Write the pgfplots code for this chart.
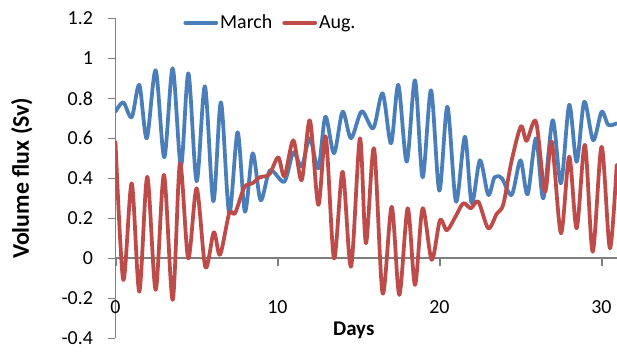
\documentclass[border=0pt]{standalone}
\usepackage{pgfplots}
\pgfplotsset{compat=1.18}
\usepackage{pgfplotstable}
\usepackage{fontspec}
\setmainfont{Carlito}

\definecolor{marchblue}{HTML}{4A7EBB}
\definecolor{augred}{HTML}{BE4B48}
\definecolor{axisgray}{HTML}{7F7F7F}

% Daily-cycle volume flux, March
\pgfplotstableread{
day flux
0.00 0.733
0.48 0.780
1.00 0.705
1.47 0.867
1.93 0.600
2.48 0.940
3.01 0.505
3.53 0.950
4.04 0.460
4.50 0.925
5.01 0.385
5.52 0.860
6.04 0.285
6.51 0.780
7.02 0.225
7.54 0.630
7.99 0.233
8.47 0.525
8.96 0.290
9.54 0.440
10.42 0.383
10.98 0.530
11.49 0.460
12.00 0.600
12.52 0.450
12.96 0.708
13.49 0.525
14.02 0.733
14.54 0.600
15.20 0.735
15.91 0.650
16.49 0.825
17.01 0.575
17.46 0.867
17.98 0.483
18.49 0.890
18.96 0.405
19.48 0.840
19.99 0.338
20.49 0.758
21.02 0.283
21.57 0.608
21.99 0.275
22.50 0.490
23.01 0.317
23.40 0.405
23.85 0.400
24.46 0.317
25.00 0.490
25.44 0.320
25.96 0.600
26.41 0.300
26.99 0.690
27.50 0.375
28.01 0.767
28.47 0.483
28.94 0.783
29.49 0.590
30.01 0.733
30.42 0.667
30.94 0.675
}\marchdata

% Daily-cycle volume flux, August
\pgfplotstableread{
day flux
0.00 0.583
0.48 -0.108
1.00 0.375
1.47 -0.167
1.96 0.408
2.48 -0.158
2.99 0.417
3.53 -0.208
3.98 0.475
4.49 0.000
5.01 0.350
5.55 -0.045
6.07 0.130
6.45 0.017
7.02 0.225
7.38 0.225
7.95 0.355
8.45 0.375
8.90 0.405
9.25 0.410
9.55 0.425
10.05 0.505
10.43 0.410
10.98 0.590
11.49 0.390
12.00 0.690
12.52 0.267
12.98 0.608
13.49 0.000
14.02 0.433
14.54 -0.042
15.09 0.600
15.46 0.075
15.96 0.550
16.49 -0.175
17.05 0.258
17.52 -0.183
18.04 0.250
18.49 -0.133
18.96 0.250
19.52 -0.008
20.03 0.190
20.46 0.140
21.00 0.210
21.47 0.275
21.94 0.250
22.40 0.283
23.01 0.150
23.53 0.222
23.94 0.270
24.46 0.490
25.03 0.660
25.38 0.587
25.96 0.683
26.51 0.333
26.93 0.583
27.50 0.125
28.01 0.508
28.47 0.150
28.98 0.567
29.46 0.033
30.01 0.558
30.52 0.050
30.94 0.467
}\augdata

\begin{document}
\begin{tikzpicture}
% horizontal axis crossing at zero (80bp above the bottom of the plot box)
% and its downward ticks, laid under the series
\fill[axisgray] (0bp,79.1bp) rectangle (501.5bp,81.1bp);
\fill[axisgray] (-1bp,80bp) rectangle (1bp,72bp);
\fill[axisgray] (161bp,80bp) rectangle (163bp,72bp);
\fill[axisgray] (323bp,80bp) rectangle (325bp,72bp);
\fill[axisgray] (485bp,80bp) rectangle (487bp,72bp);
\begin{axis}[
  name=ax, at={(0,0)}, anchor=south west,
  scale only axis, width=501.5bp, height=320bp,
  xmin=0, xmax=30.96, ymin=-0.4, ymax=1.2,
  axis x line=bottom, axis y line=left,
  x axis line style={draw=none},
  y axis line style={draw=axisgray, line width=1.5bp, -},
  tick align=outside, major tick length=7bp,
  ytick style={draw=axisgray, line width=1.5bp},
  xtick style={draw=none},
  xtick={0,10,20,30}, xticklabels={0,10,20,30},
  ytick={-0.4,-0.2,0,0.2,0.4,0.6,0.8,1,1.2},
  yticklabels={-0.4,-0.2,0,0.2,0.4,0.6,0.8,1,1.2},
  ticklabel style={font=\fontsize{20}{24}\selectfont, text=black},
  xticklabel style={anchor=center, yshift=38bp},
  yticklabel style={anchor=east, xshift=-12bp},
  xlabel={Days},
  ylabel={Volume flux (Sv)},
  xlabel style={font=\fontsize{21}{25}\selectfont\bfseries,
    at={(axis description cs:0.475,0.026)}, anchor=center},
  ylabel style={font=\fontsize{24}{28}\selectfont\bfseries,
    at={(axis description cs:-0.187,0.5)}, anchor=center, rotate=0},
  legend style={at={(axis description cs:0.309,0.986)}, anchor=center,
    draw=none, fill=none, legend columns=-1,
    font=\fontsize{20}{24}\selectfont,
    /tikz/every even column/.append style={column sep=8bp}},
  legend image code/.code={\draw[#1, line width=3.75bp] (0bp,0bp) -- (31bp,0bp);},
]
\addplot[marchblue, smooth, line width=3.75bp, line cap=round, line join=round]
  table[x=day, y=flux] {\marchdata};
\addlegendentry{March}
\addplot[augred, smooth, line width=3.75bp, line cap=round, line join=round]
  table[x=day, y=flux] {\augdata};
\addlegendentry{Aug.}
\end{axis}
\pgfresetboundingbox
\path[use as bounding box] (-115.5bp,-13.7bp) rectangle (501.5bp,338.3bp);
\end{tikzpicture}
\end{document}
